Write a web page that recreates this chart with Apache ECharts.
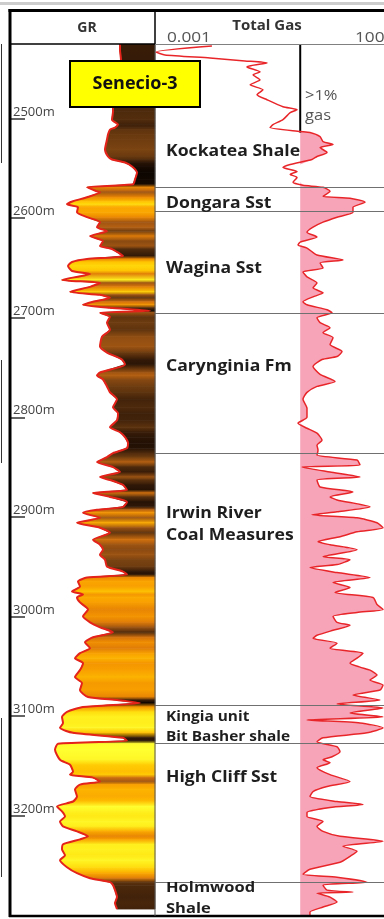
<!DOCTYPE html>
<html><head><meta charset="utf-8">
<script src="https://cdn.jsdelivr.net/npm/echarts@6/dist/echarts.min.js"></script>
<style>html,body{margin:0;padding:0;background:#fff;}#c{width:384px;height:919px;}</style>
</head><body><div id="c"></div>
<script>
// ---------- DATA ----------
const depthTicks = [2500, 2600, 2700, 2800, 2900, 3000, 3100, 3200];
const grDepth = [2425,2431,2441,2456,2471,2488,2493,2501,2506,2509,2511,2516,2521,2531,2538,2541,2544,2548,2554,2561,2566,2569,2573,2574,2579,2583,2586,2589,2594,2599,2604,2609,2613,2618,2623,2628,2631,2638,2641,2644,2648,2653,2656,2662,2665,2669,2674,2677,2680,2684,2687,2690,2693,2695,2699,2705,2712,2719,2729,2735,2742,2747,2755,2758,2762,2769,2775,2782,2790,2796,2803,2810,2815,2820,2826,2831,2836,2840,2845,2850,2855,2860,2863,2868,2873,2876,2880,2885,2890,2893,2896,2901,2906,2911,2916,2923,2928,2933,2938,2943,2950,2955,2958,2961,2965,2970,2975,2978,2981,2986,2993,3000,3006,3011,3016,3021,3026,3032,3037,3042,3047,3054,3061,3067,3074,3081,3084,3087,3091,3096,3101,3107,3112,3117,3122,3125,3128,3134,3144,3149,3156,3159,3162,3166,3169,3174,3181,3186,3191,3196,3201,3206,3211,3216,3221,3224,3229,3234,3240,3245,3252,3258,3263,3267,3270,3275,3282,3288,3294];
const grValue = [115,115,116,114,112,108,108,107,113,110,105,103,102,100,103,107,120,127,132,130,128,82,92,95,82,68,62,73,72,82,95,92,102,85,98,95,107,118,82,67,63,67,85,57,95,85,65,95,105,88,78,105,145,95,105,102,105,97,95,102,117,120,95,92,98,102,105,112,108,113,112,105,115,120,123,122,108,102,92,108,115,95,105,118,122,88,105,122,118,92,78,95,72,95,105,88,95,98,95,100,102,118,122,82,73,75,67,78,72,75,83,78,85,95,108,88,80,85,75,70,78,75,70,77,75,83,112,135,78,62,57,58,55,68,118,122,53,50,55,65,68,65,88,95,75,70,72,68,52,57,60,55,58,72,83,75,58,57,60,55,62,72,85,105,108,110,112,110,112];
const gasDepth = [2427,2433,2436,2439,2442,2444,2448,2453,2456,2461,2466,2471,2476,2481,2488,2491,2494,2501,2506,2509,2513,2514,2518,2523,2526,2529,2534,2538,2541,2546,2549,2553,2556,2559,2564,2567,2569,2573,2578,2580,2584,2589,2594,2599,2604,2609,2614,2619,2624,2627,2630,2637,2642,2645,2650,2654,2659,2665,2670,2675,2679,2684,2687,2692,2695,2700,2705,2710,2715,2720,2727,2734,2739,2742,2749,2757,2764,2769,2775,2782,2791,2800,2806,2811,2816,2823,2828,2833,2838,2843,2848,2850,2855,2860,2863,2870,2875,2880,2883,2890,2895,2898,2901,2906,2911,2915,2920,2925,2928,2933,2940,2943,2948,2951,2956,2961,2966,2971,2976,2981,2988,2993,2996,3000,3006,3009,3014,3019,3022,3027,3032,3037,3042,3047,3051,3054,3059,3064,3069,3074,3079,3084,3088,3092,3097,3101,3104,3107,3112,3117,3122,3126,3131,3136,3141,3144,3147,3152,3159,3166,3171,3176,3181,3186,3189,3192,3197,3201,3206,3211,3216,3221,3226,3231,3236,3241,3247,3254,3259,3262,3267,3270,3275,3277,3278,3282,3287,3292,3297,3300];
const gasValue = [0.015,0.00105,0.0016,0.0137,0.072,0.206,0.079,0.148,0.106,0.148,0.092,0.17,0.128,0.206,0.44,0.86,0.62,0.44,0.274,0.238,1.0,1.59,2.57,2.96,4.76,2.57,3.58,2.22,1.75,0.62,0.44,0.86,0.62,0.86,0.71,1.14,2.96,4.13,2.96,10.7,21.8,12.3,12.3,5.76,2.96,1.84,1.38,2.22,1.0,0.9,1.38,2.22,7.66,2.57,2.96,1.14,1.38,2.22,1.84,2.96,1.84,1.14,1.38,3.58,4.54,2.22,2.57,4.13,2.96,4.76,4.13,7.31,5.76,2.82,1.84,2.57,5.24,2.22,1.38,1.14,1.38,1.38,0.9,1.38,2.22,2.82,2.22,2.33,2.22,14.9,17.2,1.09,4.13,17.2,2.22,2.57,12.3,4.13,5.76,27.7,5.76,1.75,14.9,38.6,51.4,14.9,6.64,2.33,4.13,14.9,2.96,10.7,5.76,1.59,5.76,27.7,4.76,10.7,5.24,31.9,38.6,51.4,14.9,4.76,5.76,10.7,4.76,2.22,1.84,5.76,4.13,19.9,14.9,10.7,17.2,27.7,38.6,27.7,51.4,44.6,12.3,44.6,5.76,51.4,10.7,51.4,1.38,17.2,51.4,24.0,2.96,2.22,5.76,6.64,4.54,2.96,4.13,2.22,4.13,10.7,3.58,1.84,1.59,5.76,19.9,4.13,1.38,1.38,2.96,2.22,2.96,6.64,51.4,7.66,14.9,10.7,6.64,1.59,1.14,5.76,24.0,2.96,3.58,12.3,2.22,4.13,5.76,2.96,1.59,1.59];
const gasCutoff = 1;             // >1% gas marker
const gasMarkerDepths = [2425, 2514];
const formationTops = [2569, 2593, 2695, 2836, 3089, 3127, 3267];
const formationNames = ['Kockatea Shale','Dongara Sst','Wagina Sst','Carynginia Fm','Irwin River\nCoal Measures','Kingia unit\nBit Basher shale','High Cliff Sst','Holmwood\nShale'];
const formationLabelDepths = [2533, 2585, 2650, 2749, 2908, 3111, 3162, 3283];
const wellName = 'Senecio-3';
const gasScaleLabels = ['0.001', '100'];

// ---------- STYLE ----------
const grColorStops = [[52,[255,255,48]],[60,[255,232,20]],[66,[255,200,0]],[73,[250,165,0]],[81,[240,140,0]],[89,[205,108,16]],[96,[150,80,18]],[102,[110,60,16]],[108,[78,42,12]],[115,[56,28,8]],[124,[32,15,4]],[132,[12,5,0]]];
function grColor(v){
  const s = grColorStops;
  if (v <= s[0][0]) return 'rgb(' + s[0][1].join(',') + ')';
  for (let i = 0; i < s.length - 1; i++) {
    if (v <= s[i+1][0]) {
      const t = (v - s[i][0]) / (s[i+1][0] - s[i][0]);
      const c = s[i][1].map((a, k) => Math.round(a + (s[i+1][1][k] - a) * t));
      return 'rgb(' + c.join(',') + ')';
    }
  }
  return 'rgb(' + s[s.length-1][1].join(',') + ')';
}
const FONT = '"Open Sans", "DejaVu Sans", sans-serif';
const labelSizes = [16,16,16,16,16,14,16,15];

const chart = echarts.init(document.getElementById('c'), null, {renderer: 'canvas'});
const GR_MAX = 150;

const option = {
  animation: false,
  backgroundColor: '#fff',
  grid: [
    {left: 10, top: 19.1, width: 145, height: 895.9},
    {left: 155, top: 19.1, width: 229, height: 895.9}
  ],
  xAxis: [
    {gridIndex: 0, type: 'value', min: 5, max: GR_MAX, show: false},
    {gridIndex: 1, type: 'log', logBase: 10, min: 0.001, max: 53.8, show: false}
  ],
  yAxis: [
    {gridIndex: 0, type: 'value', inverse: true, min: 2400, max: 3300, interval: 100,
     axisLine: {show: false},
     axisTick: {show: true, inside: true, length: 15, lineStyle: {color: '#333', width: 1.5}},
     axisLabel: {show: true, inside: true, verticalAlign: 'bottom', margin: 3, color: '#444',
       fontSize: 13, fontFamily: FONT, showMaxLabel: false, showMinLabel: false,
       formatter: v => depthTicks.indexOf(v) >= 0 ? v + 'm' : ''},
     splitLine: {show: false}},
    {gridIndex: 1, type: 'value', inverse: true, min: 2400, max: 3300, show: false}
  ],
  series: [
    { // GR colour fill
      type: 'custom', xAxisIndex: 0, yAxisIndex: 0, data: [[GR_MAX, 2425]], z: 1,
      renderItem: function(params, api){
        const children = [];
        for (let i = 0; i < grDepth.length - 1; i++) {
          const p1 = api.coord([grValue[i], grDepth[i]]);
          const p2 = api.coord([grValue[i+1], grDepth[i+1]]);
          const r1 = api.coord([GR_MAX, grDepth[i]]);
          const r2 = api.coord([GR_MAX, grDepth[i+1]]);
          const grad = new echarts.graphic.LinearGradient(0, 0, 0, 1, [
            {offset: 0, color: grColor(grValue[i])}, {offset: 1, color: grColor(grValue[i+1])}]);
          children.push({type: 'polygon', shape: {points: [p1, r1, r2, p2]},
            style: {fill: grad, stroke: grad, lineWidth: 0.8}});
        }
        return {type: 'group', children: children};
      }
    },
    { // GR curve
      type: 'line', xAxisIndex: 0, yAxisIndex: 0, z: 3,
      data: grValue.map((v, i) => [v, grDepth[i]]),
      showSymbol: false, smooth: 0.2,
      lineStyle: {color: '#e4231b', width: 2}
    },
    { // gas > 1% fill
      type: 'custom', xAxisIndex: 1, yAxisIndex: 1, data: [[gasCutoff, 2500]], z: 1,
      renderItem: function(params, api){
        const pts = gasValue.map((v, i) => api.coord([Math.max(v, gasCutoff), gasDepth[i]]));
        pts.push(api.coord([gasCutoff, gasDepth[gasDepth.length-1]]));
        pts.push(api.coord([gasCutoff, gasDepth[0]]));
        return {type: 'polygon', shape: {points: pts}, style: {fill: '#f7a4b8'}};
      }
    },
    { // 1% marker line
      type: 'line', xAxisIndex: 1, yAxisIndex: 1, z: 3,
      data: gasMarkerDepths.map(d => [gasCutoff, d]), showSymbol: false,
      lineStyle: {color: '#000', width: 2}
    },
    { // gas curve + formation tops
      type: 'line', xAxisIndex: 1, yAxisIndex: 1, z: 4,
      data: gasValue.map((v, i) => [v, gasDepth[i]]),
      showSymbol: false, smooth: 0.2,
      lineStyle: {color: '#e8262a', width: 1.5},
      markLine: {silent: true, symbol: ['none', 'none'], label: {show: false},
        lineStyle: {color: '#707070', width: 1.2, type: 'solid'},
        data: formationTops.map(d => ({yAxis: d}))}
    },
    { // formation labels
      type: 'custom', xAxisIndex: 1, yAxisIndex: 1, z: 6,
      data: formationLabelDepths.map(d => [0.001, d]),
      renderItem: function(params, api){
        const p = api.coord([api.value(0), api.value(1)]);
        const i = params.dataIndex;
        return {type: 'text', x: p[0] + 11, y: p[1], scaleX: 1.1,
          style: {text: formationNames[i], fontSize: labelSizes[i], fontWeight: 'bold', fontFamily: FONT,
            fill: '#1e1e1e', align: 'left', verticalAlign: 'middle', lineHeight: labelSizes[i] + 6}};
      }
    }
  ],
  graphic: [
    {type: 'rect', z: 100, shape: {x: 0, y: 2, width: 384, height: 3}, style: {fill: '#cdcdcd'}},
    {type: 'rect', z: 100, shape: {x: 10, y: 10, width: 374, height: 34}, style: {fill: '#fff'}},
    {type: 'line', z: 101, shape: {x1: 8.5, y1: 10.5, x2: 384, y2: 10.5}, style: {stroke: '#000', lineWidth: 3}},
    {type: 'line', z: 101, shape: {x1: 10, y1: 9, x2: 10, y2: 917}, style: {stroke: '#000', lineWidth: 3}},
    {type: 'line', z: 101, shape: {x1: 9, y1: 916, x2: 384, y2: 916}, style: {stroke: '#000', lineWidth: 2.5}},
    {type: 'line', z: 101, shape: {x1: 155, y1: 10, x2: 155, y2: 44}, style: {stroke: '#000', lineWidth: 1.5}},
    {type: 'line', z: 101, shape: {x1: 155, y1: 44, x2: 155, y2: 916}, style: {stroke: '#555', lineWidth: 1}},
    {type: 'line', z: 101, shape: {x1: 10, y1: 44, x2: 155, y2: 44}, style: {stroke: '#000', lineWidth: 1.5}},
    {type: 'line', z: 101, shape: {x1: 155, y1: 44.5, x2: 384, y2: 44.5}, style: {stroke: '#808080', lineWidth: 1}},
    {type: 'line', z: 101, shape: {x1: 1.5, y1: 44, x2: 1.5, y2: 163}, style: {stroke: '#333', lineWidth: 1}},
    {type: 'line', z: 101, shape: {x1: 1.5, y1: 360, x2: 1.5, y2: 463}, style: {stroke: '#333', lineWidth: 1}},
    {type: 'line', z: 101, shape: {x1: 1.5, y1: 718, x2: 1.5, y2: 877}, style: {stroke: '#333', lineWidth: 1}},
    {type: 'text', z: 102, style: {text: 'GR', x: 87, y: 28, align: 'center', verticalAlign: 'middle', fontSize: 14, fontWeight: 'bold', fontFamily: FONT, fill: '#333'}},
    {type: 'text', z: 102, style: {text: 'Total Gas', x: 267, y: 26, align: 'center', verticalAlign: 'middle', fontSize: 15, fontWeight: 'bold', fontFamily: FONT, fill: '#333'}},
    {type: 'text', z: 102, x: 167, y: 38, scaleX: 1.15, style: {text: gasScaleLabels[0], x: 0, y: 0, align: 'left', verticalAlign: 'middle', fontSize: 15, fontFamily: FONT, fill: '#555'}},
    {type: 'text', z: 102, x: 355, y: 38, scaleX: 1.15, style: {text: gasScaleLabels[1], x: 0, y: 0, align: 'left', verticalAlign: 'middle', fontSize: 15, fontFamily: FONT, fill: '#555'}},
    {type: 'rect', z: 103, shape: {x: 70, y: 61, width: 130, height: 46}, style: {fill: '#ffff00', stroke: '#000', lineWidth: 2}},
    {type: 'text', z: 104, style: {text: wellName, x: 135, y: 84, align: 'center', verticalAlign: 'middle', fontSize: 18, fontWeight: 'bold', fontFamily: FONT, fill: '#111'}},
    {type: 'text', z: 102, x: 305, y: 96, scaleX: 1.1, style: {text: '>1%', x: 0, y: 0, align: 'left', verticalAlign: 'middle', fontSize: 15, fontFamily: FONT, fill: '#555'}},
    {type: 'text', z: 102, x: 305, y: 116, scaleX: 1.1, style: {text: 'gas', x: 0, y: 0, align: 'left', verticalAlign: 'middle', fontSize: 15, fontFamily: FONT, fill: '#555'}}
  ]
};
chart.setOption(option);
</script></body></html>
